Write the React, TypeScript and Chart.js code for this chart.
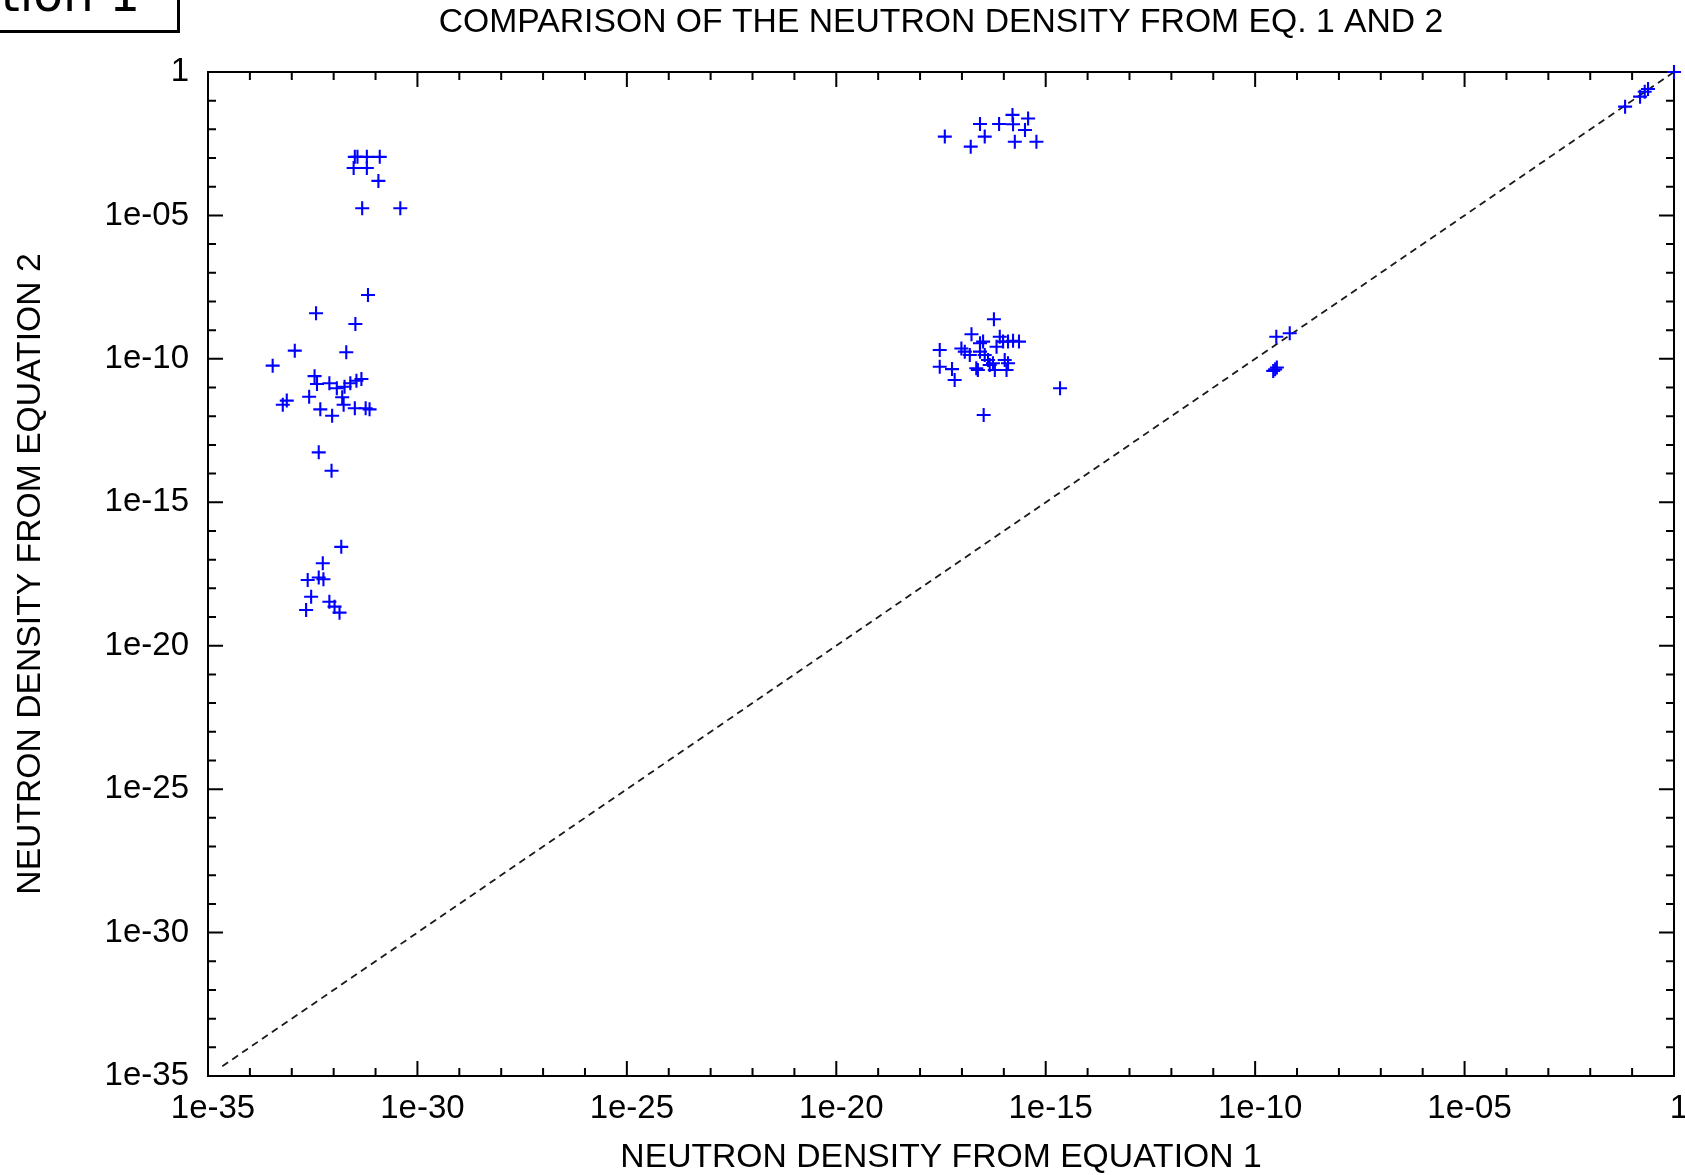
import React, { useEffect, useRef } from 'react';
import { Chart, registerables } from 'chart.js';

Chart.register(...registerables);

// ---- text ----
const TITLE = 'COMPARISON OF THE NEUTRON DENSITY FROM EQ. 1 AND 2';
const X_TITLE = 'NEUTRON DENSITY FROM EQUATION 1';
const Y_TITLE = 'NEUTRON DENSITY FROM EQUATION 2';
const CORNER_LABEL = 'Equation 1';

// ---- axes ----
const AXIS_MIN = 1e-35;
const AXIS_MAX = 1;
const MAJOR_TICKS = [1e-35, 1e-30, 1e-25, 1e-20, 1e-15, 1e-10, 1e-5, 1];
const TICK_LABELS = ['1e-35', '1e-30', '1e-25', '1e-20', '1e-15', '1e-10', '1e-05', '1'];
const MINOR_EXPONENTS_FROM = -35;
const MINOR_EXPONENTS_TO = 0;

// ---- y = x reference line ----
const DIAGONAL_X = [2.2e-35, 1];
const DIAGONAL_Y = [2.2e-35, 1];

// ---- data clusters (x: equation 1, y: equation 2) ----
const LEFT_TOP_X = [3.2e-32, 3.7e-32, 6.2e-32, 1.26e-31, 3.0e-32, 6.2e-32, 1.17e-31, 4.8e-32, 3.9e-31];
const LEFT_TOP_Y = [1.1e-3, 1.1e-3, 1.1e-3, 1.1e-3, 4.5e-4, 4.5e-4, 1.6e-4, 1.77e-5, 1.77e-5];

const LEFT_MID_X = [6.6e-32, 3.8e-33, 3.3e-32, 1.18e-33, 2.0e-32, 3.5e-34, 3.5e-33, 4.0e-33, 7.9e-33, 1.19e-32, 1.82e-32, 2.5e-32, 3.5e-32, 4.6e-32, 1.6e-32, 1.73e-32, 2.6e-33, 6.1e-34, 7.6e-34, 4.8e-33, 9.2e-33, 3.2e-32, 5.8e-32, 7.2e-32, 4.4e-33, 8.9e-33];
const LEFT_MID_Y = [1.68e-8, 3.9e-9, 1.64e-9, 1.93e-10, 1.69e-10, 5.8e-11, 2.5e-11, 1.33e-11, 1.41e-11, 9.4e-12, 1.07e-11, 1.41e-11, 1.73e-11, 1.99e-11, 4.6e-12, 2.5e-12, 4.8e-12, 2.5e-12, 3.5e-12, 1.74e-12, 1.04e-12, 1.89e-12, 1.89e-12, 1.74e-12, 5.5e-14, 1.26e-14];

const LEFT_LOW_X = [1.52e-32, 5.5e-33, 2.4e-33, 4.4e-33, 5.7e-33, 2.9e-33, 2.2e-33, 7.9e-33, 1.05e-32, 1.38e-32];
const LEFT_LOW_Y = [2.8e-17, 7.5e-18, 1.95e-18, 2.4e-18, 2.07e-18, 5.1e-19, 1.76e-19, 3.4e-19, 2.3e-19, 1.42e-19];

const RIGHT_TOP_X = [3.9e-18, 1.62e-17, 2.7e-17, 3.5e-17, 7.7e-17, 1.61e-16, 1.66e-16, 3.8e-16, 3.2e-16, 1.83e-16, 6.0e-16];
const RIGHT_TOP_Y = [5.6e-3, 2.5e-3, 1.54e-2, 5.6e-3, 1.54e-2, 3.2e-2, 1.5e-2, 2.4e-2, 9.5e-3, 3.7e-3, 3.7e-3];

const RIGHT_MID_X = [5.8e-17, 1.69e-17, 2.95e-18, 2.95e-18, 5.8e-18, 6.7e-18, 9.7e-18, 1.17e-17, 1.54e-17, 2.7e-17, 3.2e-17, 2.7e-17, 3.5e-17, 4.2e-17, 4.6e-17, 5.5e-17, 2.2e-17, 2.4e-17, 6.1e-17, 8.0e-17, 9.6e-17, 6.7e-17, 1.26e-16, 1.66e-16, 2.3e-16, 1.05e-16, 1.16e-16, 1.26e-16, 2.2e-15, 3.3e-17];
const RIGHT_MID_Y = [2.4e-9, 7.2e-10, 2.04e-10, 5.3e-11, 4.4e-11, 1.83e-11, 2.3e-10, 1.78e-10, 1.36e-10, 3.5e-10, 4.0e-10, 1.78e-10, 1.36e-10, 9.1e-11, 6.1e-11, 7.0e-11, 4.7e-11, 4.1e-11, 4.1e-11, 5.9e-10, 4.0e-10, 2.65e-10, 4.0e-10, 4.3e-10, 4.0e-10, 9.1e-11, 4.1e-11, 7.0e-11, 9.4e-12, 1.1e-12];

const NEAR_DIAG_X = [3.2e-10, 6.7e-10, 3.0e-10, 3.3e-10, 2.7e-10];
const NEAR_DIAG_Y = [5.9e-10, 7.8e-10, 4.3e-11, 5.0e-11, 3.8e-11];

const TOP_CORNER_X = [6.8e-2, 0.155, 0.2, 0.24, 1];
const TOP_CORNER_Y = [6.2e-2, 0.138, 0.206, 0.255, 1];

const CLUSTERS: [number[], number[]][] = [
  [LEFT_TOP_X, LEFT_TOP_Y],
  [LEFT_MID_X, LEFT_MID_Y],
  [LEFT_LOW_X, LEFT_LOW_Y],
  [RIGHT_TOP_X, RIGHT_TOP_Y],
  [RIGHT_MID_X, RIGHT_MID_Y],
  [NEAR_DIAG_X, NEAR_DIAG_Y],
  [TOP_CORNER_X, TOP_CORNER_Y],
];

const FONT = "'Liberation Sans', Arial, Helvetica, sans-serif";

const framePlugin = {
  id: 'gnuplotFrame',
  beforeDatasetsDraw(chart: any) {
    const { ctx, chartArea, scales } = chart;
    const { left, right, top, bottom } = chartArea;
    const xs = scales.x;
    const ys = scales.y;
    ctx.save();
    ctx.strokeStyle = '#000';
    ctx.lineWidth = 2;
    ctx.strokeRect(left, top, right - left, bottom - top);
    ctx.beginPath();
    for (let e = MINOR_EXPONENTS_FROM; e <= MINOR_EXPONENTS_TO; e++) {
      const v = Math.pow(10, e);
      const len = e % 5 === 0 ? 15 : 8;
      const px = xs.getPixelForValue(v);
      const py = ys.getPixelForValue(v);
      ctx.moveTo(px, bottom);
      ctx.lineTo(px, bottom - len);
      ctx.moveTo(px, top);
      ctx.lineTo(px, top + len);
      ctx.moveTo(left, py);
      ctx.lineTo(left + len, py);
      ctx.moveTo(right, py);
      ctx.lineTo(right - len, py);
    }
    ctx.stroke();
    ctx.restore();
  },
};

export default function App() {
  const canvasRef = useRef<HTMLCanvasElement | null>(null);

  useEffect(() => {
    if (!canvasRef.current) return;
    const points: { x: number; y: number }[] = [];
    CLUSTERS.forEach(([xs, ys]) => {
      xs.forEach((xv, i) => points.push({ x: xv, y: ys[i] }));
    });
    const diagonal = DIAGONAL_X.map((xv, i) => ({ x: xv, y: DIAGONAL_Y[i] }));

    const chart = new Chart(canvasRef.current, {
      type: 'scatter',
      data: {
        datasets: [
          {
            label: 'data',
            data: points,
            pointStyle: 'cross',
            pointRadius: 7,
            pointBorderWidth: 2.1,
            borderColor: '#0000ff',
            backgroundColor: '#0000ff',
            clip: false as any,
            xAxisID: 'x',
            yAxisID: 'y',
          },
          {
            label: 'y = x',
            data: diagonal,
            showLine: true,
            borderColor: '#1a1a1a',
            borderWidth: 1.8,
            borderDash: [7, 5],
            pointRadius: 0,
            fill: false,
            xAxisID: 'x',
            yAxisID: 'y',
          } as any,
        ],
      },
      options: {
        responsive: false,
        animation: false,
        events: [],
        layout: { padding: { left: 0, right: 11, top: 0, bottom: 0 } },
        plugins: {
          legend: { display: false },
          tooltip: { enabled: false },
          title: { display: false },
        },
        scales: {
          xTop: {
            type: 'logarithmic',
            position: 'top',
            min: AXIS_MIN,
            max: AXIS_MAX,
            afterFit: (s: any) => {
              s.height = 72;
            },
            grid: { display: false, drawTicks: false },
            border: { display: false },
            ticks: { display: false },
            title: {
              display: true,
              text: TITLE,
              color: '#000',
              font: { family: FONT, size: 33.7, lineHeight: 1.2 },
              padding: { top: 2.3, bottom: 0 },
            },
          },
          x: {
            type: 'logarithmic',
            position: 'bottom',
            min: AXIS_MIN,
            max: AXIS_MAX,
            afterBuildTicks: (s: any) => {
              s.ticks = MAJOR_TICKS.map((v) => ({ value: v }));
            },
            afterFit: (s: any) => {
              s.height = 99;
            },
            grid: { display: false, drawTicks: false },
            border: { display: false },
            ticks: {
              autoSkip: false,
              maxRotation: 0,
              minRotation: 0,
              padding: 0,
              labelOffset: 5,
              color: '#000',
              font: { family: FONT, size: 33, lineHeight: 2 },
              callback: (_v: any, i: number) => TICK_LABELS[i],
            },
            title: {
              display: true,
              text: X_TITLE,
              color: '#000',
              font: { family: FONT, size: 33.7, lineHeight: 1 },
              padding: 0,
            },
          },
          y: {
            type: 'logarithmic',
            position: 'left',
            min: AXIS_MIN,
            max: AXIS_MAX,
            afterBuildTicks: (s: any) => {
              s.ticks = MAJOR_TICKS.map((v) => ({ value: v }));
            },
            afterFit: (s: any) => {
              s.width = 208;
            },
            grid: { display: false, drawTicks: false },
            border: { display: false },
            ticks: {
              autoSkip: false,
              padding: 19,
              color: '#000',
              font: { family: FONT, size: 33, lineHeight: 1.2 },
              callback: (_v: any, i: number) => TICK_LABELS[i],
            },
            title: {
              display: true,
              text: Y_TITLE,
              color: '#000',
              font: { family: FONT, size: 33.7, lineHeight: 1 },
              padding: { top: 13.5, bottom: 0 },
            },
          },
        },
      } as any,
      plugins: [framePlugin],
    });
    return () => chart.destroy();
  }, []);

  return (
    <>
      <div style={{ position: 'fixed', left: 0, top: 0, width: 1685, height: 1175, background: '#fff' }}>
        <canvas ref={canvasRef} width={1685} height={1175} style={{ display: 'block', width: 1685, height: 1175 }} />
      </div>
      <div
        style={{
          position: 'fixed',
          left: -20,
          top: -20,
          width: 200,
          height: 53,
          border: '3px solid #000',
          boxSizing: 'border-box',
          background: '#fff',
        }}
      >
        <div
          style={{
            position: 'absolute',
            right: 37,
            top: -14,
            fontFamily: "'DejaVu Sans', sans-serif",
            fontSize: 48.5,
            lineHeight: '50px',
            whiteSpace: 'nowrap',
            color: '#000',
          }}
        >
          {CORNER_LABEL}
        </div>
      </div>
    </>
  );
}
